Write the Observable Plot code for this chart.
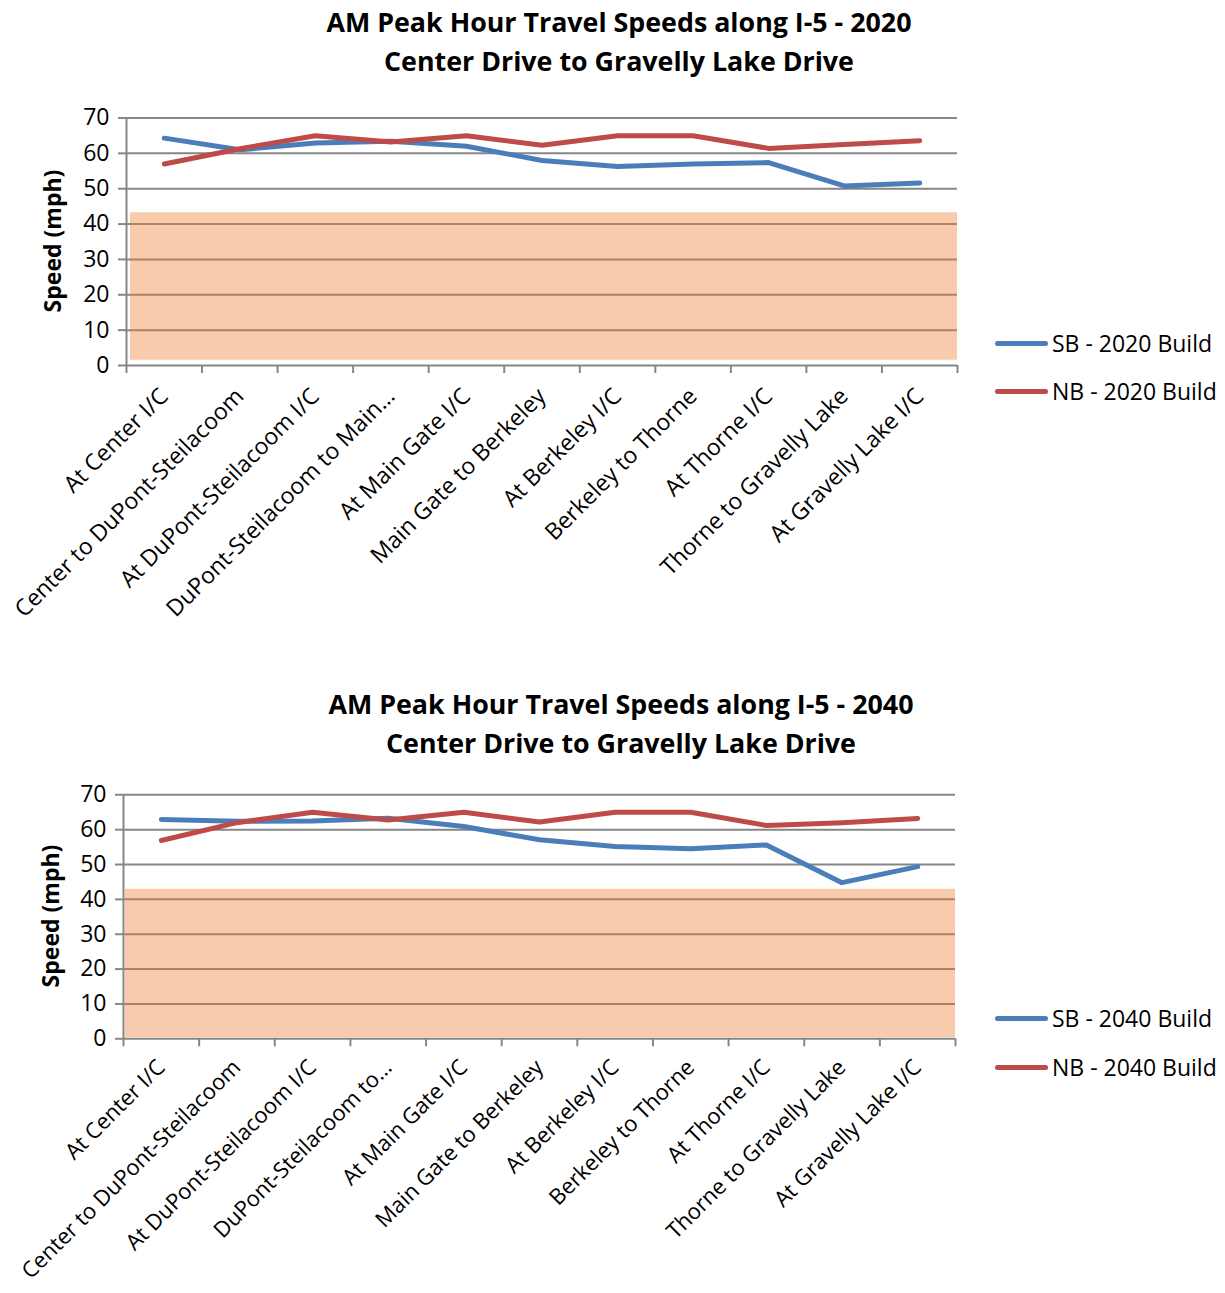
<!DOCTYPE html>
<html><head><meta charset="utf-8">
<script src="https://cdn.jsdelivr.net/npm/d3@7"></script>
<script src="https://cdn.jsdelivr.net/npm/@observablehq/plot@0.6"></script>
<style>
body{margin:0;background:#fff;width:1225px;height:1293px;position:relative;overflow:hidden;font-family:"Open Sans",sans-serif;}
.abs{position:absolute;}
.title{font-weight:700;font-size:26.8px;line-height:39px;text-align:center;width:1000px;color:#000;white-space:nowrap;}
.ylab{font-weight:700;font-size:23px;transform:rotate(-90deg);transform-origin:center;width:200px;text-align:center;line-height:24px;white-space:nowrap;}
.leg{display:flex;align-items:center;font-size:23px;white-space:nowrap;}
.leg .sw{width:53px;height:5px;border-radius:3px;margin-right:4px;}
</style></head>
<body>
<script>
const categories2020 = ["At Center I/C","Center to DuPont-Steilacoom","At DuPont-Steilacoom I/C","DuPont-Steilacoom to Main…","At Main Gate I/C","Main Gate to Berkeley","At Berkeley I/C","Berkeley to Thorne","At Thorne I/C","Thorne to Gravelly Lake","At Gravelly Lake I/C"];
const categories2040 = ["At Center I/C","Center to DuPont-Steilacoom","At DuPont-Steilacoom I/C","DuPont-Steilacoom to…","At Main Gate I/C","Main Gate to Berkeley","At Berkeley I/C","Berkeley to Thorne","At Thorne I/C","Thorne to Gravelly Lake","At Gravelly Lake I/C"];
const sb2020 = [64.3, 61.0, 62.9, 63.4, 62.0, 58.0, 56.3, 57.0, 57.4, 50.8, 51.6];
const nb2020 = [57.0, 61.3, 65.0, 63.2, 65.0, 62.3, 65.0, 65.0, 61.4, 62.5, 63.6];
const sb2040 = [62.9, 62.4, 62.5, 63.3, 60.9, 57.1, 55.2, 54.5, 55.6, 44.8, 49.4];
const nb2040 = [56.9, 62.0, 65.0, 62.8, 65.0, 62.2, 65.0, 65.0, 61.2, 62.0, 63.2];
const band2020 = {lo: 1.5, hi: 43.2};
const band2040 = {lo: 0.3, hi: 42.9};
const yTicks = [0, 10, 20, 30, 40, 50, 60, 70];
const seriesNames2020 = ["SB - 2020 Build", "NB - 2020 Build"];
const seriesNames2040 = ["SB - 2040 Build", "NB - 2040 Build"];
const titles2020 = ["AM Peak Hour Travel Speeds along I-5 - 2020", "Center Drive to Gravelly Lake Drive"];
const titles2040 = ["AM Peak Hour Travel Speeds along I-5 - 2040", "Center Drive to Gravelly Lake Drive"];
const colors = ["#4a7ebb", "#be4b48"];

function makeChart(cats, sb, nb, band, names, m) {
  const n = cats.length;
  const long = [];
  cats.forEach((c, i) => {
    long.push({i, v: sb[i], s: names[0]});
    long.push({i, v: nb[i], s: names[1]});
  });
  return Plot.plot({
    width: 980, height: m.height,
    marginLeft: m.left, marginRight: m.right, marginTop: m.top, marginBottom: m.bottom,
    x: {domain: [0, n], axis: null},
    y: {domain: [0, 70], axis: null},
    color: {domain: names, range: colors},
    style: {fontFamily: "'Open Sans', sans-serif", fontSize: "23px", color: "#000", background: "transparent", overflow: "visible"},
    marks: [
      Plot.ruleY(yTicks, {stroke: "#868686", strokeWidth: 2}),
      Plot.rect([band], {x1: 0, x2: n, y1: "lo", y2: "hi", fill: "#ed7d31", fillOpacity: 0.4, insetLeft: m.bandInset}),
      Plot.ruleX([0], {y1: 0, y2: 70, stroke: "#868686", strokeWidth: 2}),
      Plot.axisY({ticks: yTicks, tickSize: 8, tickPadding: 9, stroke: "#868686", strokeWidth: 2, fill: "#000", fontSize: 23, tickFormat: d => String(d)}),
      Plot.axisX({ticks: d3.range(n + 1), tickSize: 8, stroke: "#868686", strokeWidth: 2, tickFormat: () => ""}),
      Plot.axisX({ticks: d3.range(n).map(i => i + 0.5), tickSize: 0, tickPadding: m.labPad, tickRotate: -45, fill: "#000", fontSize: m.labSize, tickFormat: d => cats[Math.floor(d)]}),
      Plot.line(long, {x: d => d.i + 0.5, y: "v", stroke: "s", z: "s", strokeWidth: 5, strokeLinejoin: "round", strokeLinecap: "round"})
    ]
  });
}

function place(el, left, top) {
  el.classList.add("abs");
  el.style.left = left + "px";
  el.style.top = top + "px";
  document.body.appendChild(el);
  return el;
}
function title(lines, cx, top) {
  const d = document.createElement("div");
  d.className = "title";
  d.innerHTML = lines.join("<br>");
  place(d, cx - 500, top);
}
function ylab(cx, cy) {
  const d = document.createElement("div");
  d.className = "ylab";
  d.textContent = "Speed (mph)";
  place(d, cx - 100, cy - 12);
}
function legend(names, x, ys) {
  names.forEach((nm, k) => {
    const d = document.createElement("div");
    d.className = "leg";
    d.innerHTML = `<span class="sw" style="background:${colors[k]}"></span><span>${nm}</span>`;
    d.style.height = "30px";
    place(d, x, ys[k] - 15);
  });
}

title(titles2020, 619, 1.5);
place(makeChart(categories2020, sb2020, nb2020, band2020, seriesNames2020,
  {height: 540, left: 126, right: 23, top: 17.5, bottom: 275, bandInset: 4, labPad: 27, labSize: 23}), 0, 100);
ylab(52, 241);
legend(seriesNames2020, 995, [343, 391]);

title(titles2040, 621, 683.5);
place(makeChart(categories2040, sb2040, nb2040, band2040, seriesNames2040,
  {height: 513, left: 123, right: 25, top: 14.3, bottom: 254.7, bandInset: 2, labPad: 25, labSize: 22}), 0, 780);
ylab(50, 916);
legend(seriesNames2040, 995, [1018, 1067]);
</script>
</body></html>
